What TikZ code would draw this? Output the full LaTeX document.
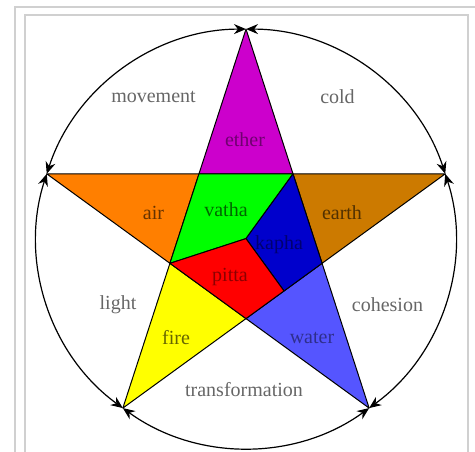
\documentclass[tikz,border=0pt]{standalone}
\usepackage{fontspec}
\setmainfont{Liberation Serif}
\usetikzlibrary{arrows.meta,calc}
\definecolor{etherc}{HTML}{CC00CC}
\definecolor{vathac}{HTML}{00FF00}
\definecolor{kaphac}{HTML}{0000CC}
\definecolor{pittac}{HTML}{FF0000}
\definecolor{airc}{HTML}{FF7F00}
\definecolor{earthc}{HTML}{CC7A00}
\definecolor{firec}{HTML}{FFFF00}
\definecolor{waterc}{HTML}{5555FF}
\definecolor{framec}{HTML}{D0D0D0}
\tikzset{
  region/.style={draw=black, line width=1pt, line join=round},
  lbl/.style={font=\fontsize{20}{24}\selectfont, text=black, text opacity=0.6, inner sep=0pt},
  ilbl/.style={lbl, text opacity=0.45},
  cyc/.style={draw=black, line width=1.2pt, {Stealth[length=12pt,width=10pt]}-{Stealth[length=12pt,width=10pt]}},
  framel/.style={draw=framec, line width=1.2pt}
}
\begin{document}
\begin{tikzpicture}[x=1pt,y=1pt]
\useasboundingbox (0,0) rectangle (475,452);
\fill[white] (0,0) rectangle (475,452);
% frame
\draw[framel] (15,0) -- (15,445) -- (475,445);
\draw[framel] (25,0) -- (25,437) -- (468,437) -- (468,0);
\begin{scope}[shift={(246,213.4)}]
  \def\R{209.5}
  \def\r{80}
  \coordinate (O) at (0,0);
  \coordinate (P1) at (90:\R);
  \coordinate (P2) at (162:\R);
  \coordinate (P3) at (234:\R);
  \coordinate (P4) at (306:\R);
  \coordinate (P5) at (18:\R);
  \coordinate (I1) at (126:\r);
  \coordinate (I2) at (54:\r);
  \coordinate (I3) at (198:\r);
  \coordinate (I4) at (342:\r);
  \coordinate (I5) at (270:\r);
  \coordinate (M) at ($(I4)!0.5!(I5)$);
  % tips
  \path[region, fill=etherc] (P1) -- (I1) -- (I2) -- cycle;
  \path[region, fill=airc] (P2) -- (I1) -- (I3) -- cycle;
  \path[region, fill=earthc] (P5) -- (I2) -- (I4) -- cycle;
  \path[region, fill=firec] (P3) -- (I3) -- (I5) -- cycle;
  \path[region, fill=waterc] (P4) -- (I4) -- (I5) -- cycle;
  % inner pentagon
  \path[region, fill=vathac] (I1) -- (I2) -- (O) -- (I3) -- cycle;
  \path[region, fill=kaphac] (I2) -- (I4) -- (M) -- (O) -- cycle;
  \path[region, fill=pittac] (I3) -- (O) -- (M) -- (I5) -- cycle;
  % circle arcs
  \draw[cyc] (P1) arc[start angle=90, end angle=162, radius=\R];
  \draw[cyc] (P2) arc[start angle=162, end angle=234, radius=\R];
  \draw[cyc] (P3) arc[start angle=234, end angle=306, radius=\R];
  \draw[cyc] (P4) arc[start angle=306, end angle=378, radius=\R];
  \draw[cyc] (P5) arc[start angle=18, end angle=90, radius=\R];
  % labels
  \node[lbl] (lmov) at (-92.5,141.6) {movement};
  \node[lbl] (lcold) at (91.5,141.6) {cold};
  \node[ilbl] (lether) at (-1,99) {ether};
  \node[lbl] (lvatha) at (-20,28.6) {vatha};
  \node[lbl] (lair) at (-92.5,25.6) {air};
  \node[lbl] (learth) at (96,25.6) {earth};
  \node[ilbl] (lkapha) at (33,-6.4) {kapha};
  \node[ilbl] (lpitta) at (-16,-38.4) {pitta};
  \node[lbl] (llight) at (-128,-66.4) {light};
  \node[lbl] (lcoh) at (141.5,-66.4) {cohesion};
  \node[lbl] (lfire) at (-70,-99.4) {fire};
  \node[ilbl] (lwater) at (66,-99.4) {water};
  \node[lbl] (ltrans) at (-2,-151.4) {transformation};
\end{scope}
\end{tikzpicture}
\end{document}
